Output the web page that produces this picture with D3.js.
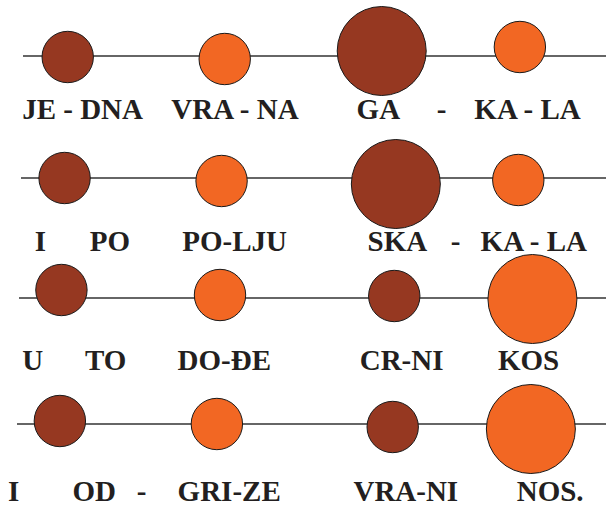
<!DOCTYPE html>
<html>
<head>
<meta charset="utf-8">
<script src="https://cdn.jsdelivr.net/npm/d3@7"></script>
<style>
  body { margin: 0; background: #fff; }
  svg text { font-family: "Liberation Serif", "Times New Roman", serif; font-weight: bold; }
</style>
</head>
<body>
<div id="chart"></div>
<script>
// song rows (one staff line each)
const rows = ["row1", "row2", "row3", "row4"];

// note position in beats along the line
const noteBeats = [
  [0.03, 1.03, 2.03, 2.91],
  [0.01, 1.01, 2.12, 2.90],
  [-0.01, 1.00, 2.11, 2.99],
  [-0.02, 0.98, 2.10, 2.98]
];
// note lengths (short = 1, long = 3)
const noteLengths = [
  [1, 1, 3, 1],
  [1, 1, 3, 1],
  [1, 1, 1, 3],
  [1, 1, 1, 3]
];
// tone: low (brown) / high (orange)
const noteTones = [
  ["low", "high", "low", "high"],
  ["low", "high", "low", "high"],
  ["low", "high", "low", "high"],
  ["low", "high", "low", "high"]
];
// small pitch shift above / below the line
const notePitch = [
  [-1, -3, 5, 9],
  [0, -3, -6, -2],
  [8, 3, 2, -1],
  [3, 0, -3, -5]
];

// lyrics
const syllables = [
  ["JE - DNA", "VRA - NA", "GA", "-", "KA - LA"],
  ["I", "PO", "PO-LJU", "SKA", "-", "KA - LA"],
  ["U", "TO", "DO-ĐE", "CR-NI", "KOS"],
  ["I", "OD", "-", "GRI-ZE", "VRA-NI", "NOS."]
];
const syllableBeats = [
  [-0.26, 0.69, 1.87, 2.38, 2.62],
  [-0.18, 0.17, 0.76, 1.94, 2.47, 2.66],
  [-0.26, 0.14, 0.73, 1.89, 2.77],
  [-0.35, 0.06, 0.47, 0.73, 1.85, 2.89]
];

const width = 606, height = 506;

const svg = d3.select("#chart").append("svg")
  .attr("width", width)
  .attr("height", height);

let x = d3.scaleLinear().domain([0, 3]).range([63, 534]);
let r = d3.scaleSqrt().domain([0, 3]).range([0, 44.5]);
let pitch = d3.scaleLinear().domain([-10, 10]).range([10, -10]);
let color = d3.scaleOrdinal().domain(["low", "high"]).range(["#963821", "#f26723"]);
let lineY = d3.scaleOrdinal().domain(rows).range([56, 178, 298, 424]);
let textY = d3.scaleOrdinal().domain(rows).range([119, 251, 370, 501]);
let lineStart = d3.scaleOrdinal().domain(rows).range([23, 21, 19, 17]);

let g = svg.selectAll("g.row")
  .data(rows)
  .enter().append("g")
  .attr("class", "row");

// staff line
g.append("line")
  .attr("x1", d => lineStart(d))
  .attr("x2", width)
  .attr("y1", d => lineY(d))
  .attr("y2", d => lineY(d))
  .style("stroke", "#333")
  .style("stroke-width", 1.4);

// notes
g.selectAll("circle")
  .data((d, i) => noteBeats[i].map((b, j) => ({
    row: d, beat: b, len: noteLengths[i][j], tone: noteTones[i][j], p: notePitch[i][j]
  })))
  .enter().append("circle")
  .attr("cx", d => x(d.beat))
  .attr("cy", d => lineY(d.row) + pitch(d.p))
  .attr("r", d => r(d.len))
  .attr("fill", d => color(d.tone))
  .style("stroke", "#1a1a1a")
  .style("stroke-width", 1);

// lyrics
g.selectAll("text")
  .data((d, i) => syllables[i].map((s, j) => ({ row: d, text: s, beat: syllableBeats[i][j] })))
  .enter().append("text")
  .attr("x", d => x(d.beat))
  .attr("y", d => textY(d.row))
  .attr("fill", "#231f20")
  .style("font-size", "29px")
  .text(d => d.text);
</script>
</body>
</html>
